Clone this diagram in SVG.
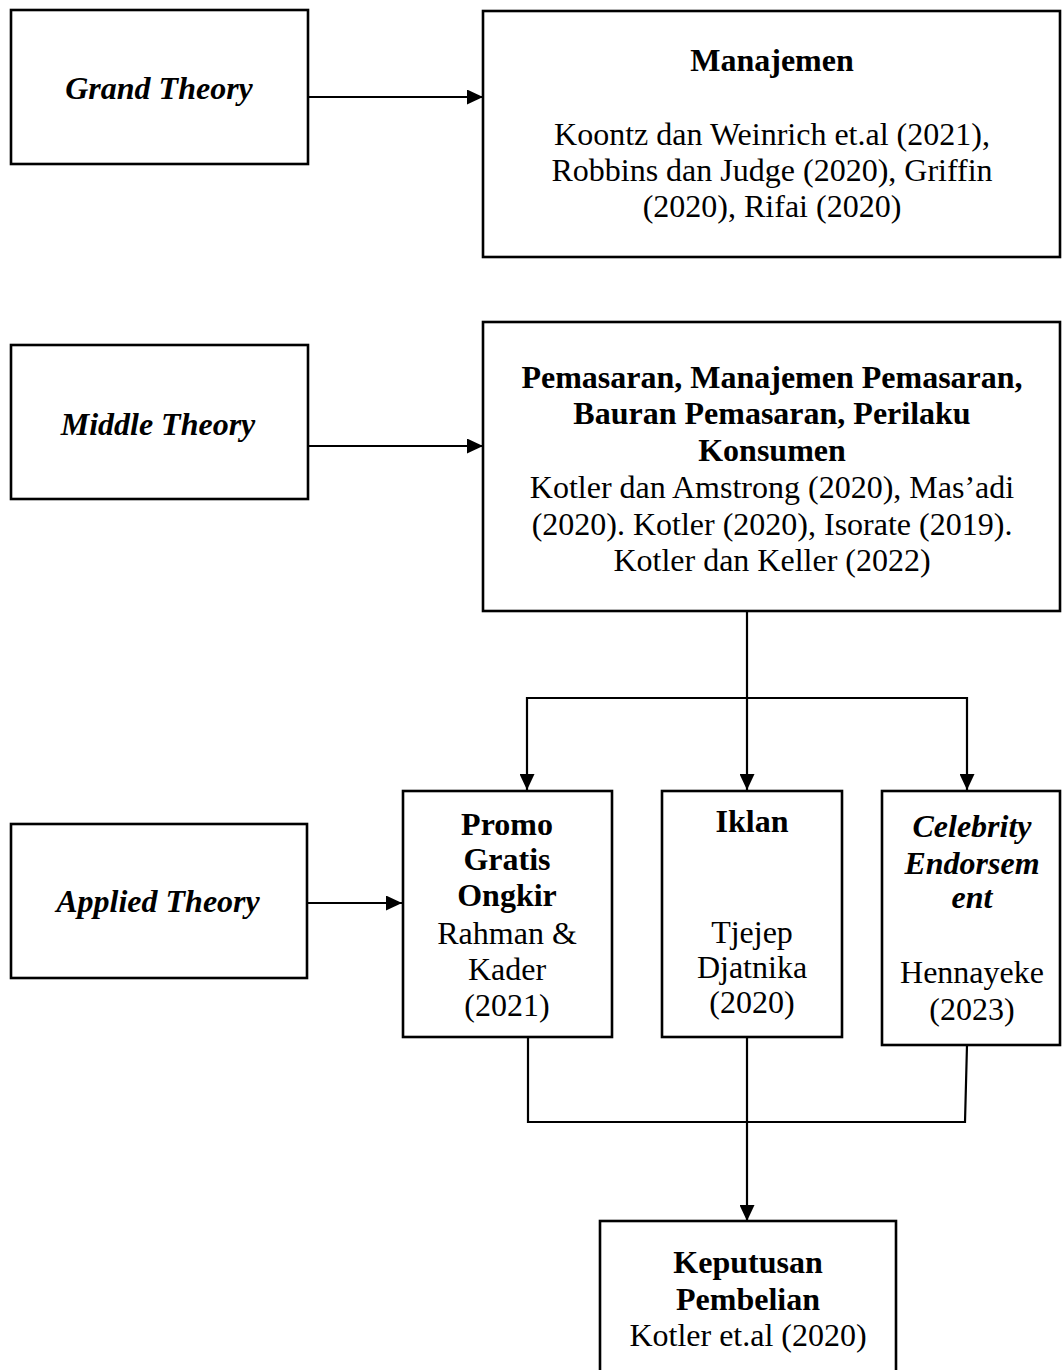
<svg xmlns="http://www.w3.org/2000/svg" width="1062" height="1370" viewBox="0 0 1062 1370">
<style>
.box{fill:#fff;stroke:#000;stroke-width:2.6}
.c{fill:none;stroke:#000;stroke-width:2.2}
text{font-family:"Liberation Serif","Times New Roman",serif;font-size:32px;fill:#000;text-anchor:middle}
.b{font-weight:bold}
.bi{font-weight:bold;font-style:italic}
</style>
<defs>
<marker id="ah" markerUnits="userSpaceOnUse" markerWidth="17" markerHeight="15" refX="16" refY="7.5" orient="auto">
<path d="M0,0 L16,7.5 L0,15 Z" fill="#000"/>
</marker>
</defs>
<rect width="1062" height="1370" fill="#fff"/>
<g id="connectors">
<line class="c" x1="308" y1="97" x2="483" y2="97" marker-end="url(#ah)"/>
<line class="c" x1="308" y1="446" x2="483" y2="446" marker-end="url(#ah)"/>
<line class="c" x1="307" y1="903" x2="402" y2="903" marker-end="url(#ah)"/>
<line class="c" x1="747" y1="611" x2="747" y2="790" marker-end="url(#ah)"/>
<polyline class="c" points="747,698 527,698 527,790" marker-end="url(#ah)"/>
<polyline class="c" points="747,698 967,698 967,790" marker-end="url(#ah)"/>
<polyline class="c" points="528,1037 528,1122 965,1122 967,1045"/>
<line class="c" x1="747" y1="1037" x2="747" y2="1221" marker-end="url(#ah)"/>
</g>
<g id="grand-theory">
<rect class="box" x="11" y="10" width="297" height="154"/>
<text class="bi" x="159" y="99">Grand Theory</text>
</g>
<g id="manajemen">
<rect class="box" x="483" y="11" width="577" height="246"/>
<text class="b" x="772" y="71">Manajemen</text>
<text x="772" y="145">Koontz dan Weinrich et.al (2021),</text>
<text x="772" y="181">Robbins dan Judge (2020), Griffin</text>
<text x="772" y="217">(2020), Rifai (2020)</text>
</g>
<g id="middle-theory">
<rect class="box" x="11" y="345" width="297" height="154"/>
<text class="bi" x="158" y="435">Middle Theory</text>
</g>
<g id="pemasaran">
<rect class="box" x="483" y="322" width="577" height="289"/>
<text class="b" x="772" y="388">Pemasaran, Manajemen Pemasaran,</text>
<text class="b" x="772" y="424">Bauran Pemasaran, Perilaku</text>
<text class="b" x="772" y="461">Konsumen</text>
<text x="772" y="498">Kotler dan Amstrong (2020), Mas’adi</text>
<text x="772" y="535">(2020). Kotler (2020), Isorate (2019).</text>
<text x="772" y="571">Kotler dan Keller (2022)</text>
</g>
<g id="applied-theory">
<rect class="box" x="11" y="824" width="296" height="154"/>
<text class="bi" x="158" y="912">Applied Theory</text>
</g>
<g id="promo">
<rect class="box" x="403" y="791" width="209" height="246"/>
<text class="b" x="507" y="835">Promo</text>
<text class="b" x="507" y="870">Gratis</text>
<text class="b" x="507" y="906">Ongkir</text>
<text x="507" y="944">Rahman &amp;</text>
<text x="507" y="980">Kader</text>
<text x="507" y="1016">(2021)</text>
</g>
<g id="iklan">
<rect class="box" x="662" y="791" width="180" height="246"/>
<text class="b" x="752" y="832">Iklan</text>
<text x="752" y="943">Tjejep</text>
<text x="752" y="978">Djatnika</text>
<text x="752" y="1013">(2020)</text>
</g>
<g id="celebrity">
<rect class="box" x="882" y="791" width="178" height="254"/>
<text class="bi" x="972" y="837">Celebrity</text>
<text class="bi" x="972" y="874">Endorsem</text>
<text class="bi" x="972" y="908">ent</text>
<text x="972" y="983">Hennayeke</text>
<text x="972" y="1020">(2023)</text>
</g>
<g id="keputusan">
<rect class="box" x="600" y="1221" width="296" height="160"/>
<text class="b" x="748" y="1273">Keputusan</text>
<text class="b" x="748" y="1310">Pembelian</text>
<text x="748" y="1346">Kotler et.al (2020)</text>
</g>
</svg>
